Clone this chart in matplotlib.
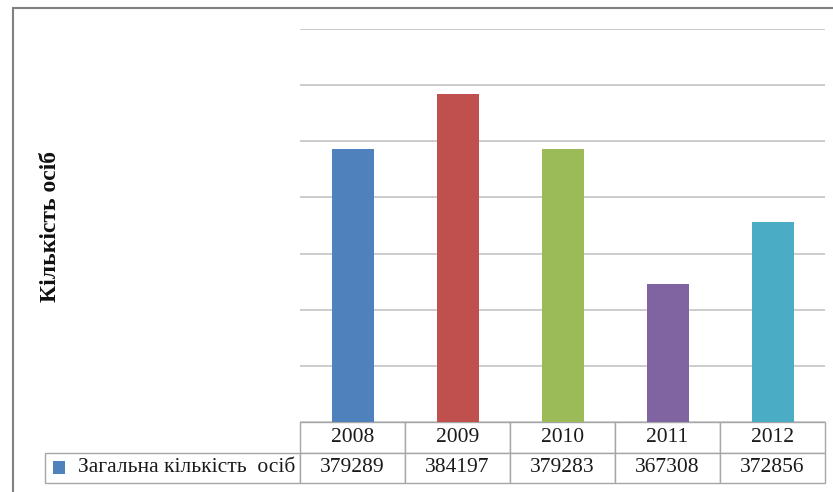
import matplotlib
matplotlib.use("Agg")
import matplotlib.pyplot as plt
from matplotlib.patches import Rectangle

years = ["2008", "2009", "2010", "2011", "2012"]
values = [379289, 384197, 379283, 367308, 372856]
series_name = "Загальна кількість  осіб"
y_label = "Кількість осіб"
colors = ["#4F81BD", "#C0504D", "#9BBB59", "#8064A2", "#4BACC6"]

W, H = 833, 492
fig = plt.figure(figsize=(W / 100, H / 100), dpi=100)
plt.rcParams["font.family"] = ["Liberation Serif", "DejaVu Serif"]

def fx(px):
    return px / W

def fy(py):
    return 1 - py / H

# plot area
left, right, top, bottom = 300, 825, 29, 422
ax = fig.add_axes([fx(left), fy(bottom), fx(right - left), fy(top) - fy(bottom)])
ax.set_xlim(-0.5, len(years) - 0.5)
ax.set_ylim(355000, 390000)
ax.set_yticks(range(355000, 390001, 5000))
ax.yaxis.grid(True, color="#C8C8C8", linewidth=1.3)
ax.set_axisbelow(True)
ax.bar(range(len(years)), values, width=0.4, color=colors, zorder=3)
for s in ax.spines.values():
    s.set_visible(False)
ax.tick_params(left=False, bottom=False, labelleft=False, labelbottom=False)

# data table below the plot
tbl_left, tbl_bottom = 45, 483
cell_text = [[""] + years, [series_name] + [str(v) for v in values]]
col_w = [left - tbl_left] + [(right - left) / len(years)] * len(years)
tot = sum(col_w)
x0 = (tbl_left - left) / (right - left)
bh = (tbl_bottom - bottom) / (bottom - top)
tbl = ax.table(cellText=cell_text, colWidths=[w / tot for w in col_w],
               cellLoc="center", bbox=[x0, -bh, 1 - x0, bh])
tbl.auto_set_font_size(False)
for (r, c), cell in tbl.get_celld().items():
    cell.set_edgecolor("#A6A6A6")
    cell.set_linewidth(1.0)
    cell.get_text().set_fontsize(15.5)
    cell.get_text().set_color("#1A1A1A")
    if r == 0 and c == 0:
        cell.visible_edges = ""
    if r == 1 and c == 0:
        cell.get_text().set_ha("right")
        cell.PAD = 0.02
tbl[1, 0]._loc = "right"

# legend key square
fig.patches.append(Rectangle((fx(53), fy(474)), fx(12), fy(461) - fy(474),
                             transform=fig.transFigure, facecolor=colors[0],
                             edgecolor="none"))

# y label
fig.text(fx(51), fy(226), y_label, rotation=90, ha="center", va="center",
         fontsize=17, fontweight="bold", color="#111111")

# outer frame
fig.patches.append(Rectangle((fx(13), fy(H + 5)), fx(W + 10 - 13), fy(8) - fy(H + 5),
                             transform=fig.transFigure, facecolor="none",
                             edgecolor="#808080", linewidth=1.5))

fig.savefig("out.png", dpi=100)
